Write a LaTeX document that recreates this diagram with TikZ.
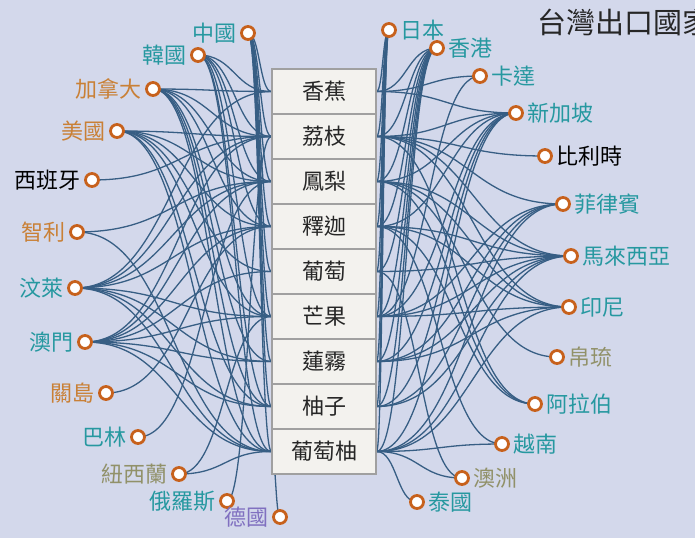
\documentclass[tikz,border=0pt]{standalone}
\usepackage{fontspec}
\setmainfont{Noto Sans CJK TC}
\usepackage{tikz}
\usetikzlibrary{calc}
\definecolor{bgblue}{RGB}{211,216,235}
\definecolor{linkblue}{RGB}{55,94,132}
\definecolor{ringorange}{RGB}{199,97,28}
\definecolor{boxfill}{RGB}{243,242,238}
\definecolor{boxline}{RGB}{160,160,160}
\definecolor{nteal}{RGB}{38,152,160}
\definecolor{norange}{RGB}{201,128,54}
\definecolor{nolive}{RGB}{145,145,105}
\definecolor{npurple}{RGB}{128,112,192}
\pgfdeclarelayer{bg}
\pgfdeclarelayer{links}
\pgfsetlayers{bg,links,main}
\newcommand{\West}[4]{\draw(#1) node[dot, label={[lab, text=#3]left:#4}] (#2) {};}
\newcommand{\East}[4]{\draw(#1) node[dot, label={[lab, text=#3]right:#4}] (#2) {};}
\newcommand{\LinkL}[2]{\draw[link] let \p1=(#1), \p2=(#2.west) in (\p1) .. controls ({(\x1+\x2)/2},\y1) and ({(\x1+\x2)/2},\y2) .. (\p2);}
\newcommand{\LinkR}[2]{\draw[link] let \p1=(#1.east), \p2=(#2) in (\p1) .. controls ({(\x1+\x2)/2},\y1) and ({(\x1+\x2)/2},\y2) .. (\p2);}

\begin{document}
\begin{tikzpicture}[x=1pt, y=-1pt,
    dot/.style={circle, draw=ringorange, line width=2.8pt, fill=white, minimum size=13pt, inner sep=0pt},
    lab/.style={font=\fontsize{22}{22}\selectfont, inner sep=1pt, label distance=2pt},
    fruit/.style={draw=boxline, line width=1.2pt, fill=boxfill, minimum width=104pt, minimum height=45pt, inner sep=0pt, text=black!85, font=\fontsize{22}{22}\selectfont},
    link/.style={draw=linkblue, line width=1.3pt}]

    \begin{pgfonlayer}{bg}
    \fill[bgblue] (0,0) rectangle (695,538);
    \end{pgfonlayer}
    \useasboundingbox (0,0) rectangle (695,538);

    \foreach \k/\name in {1/香蕉, 2/荔枝, 3/鳳梨, 4/釋迦, 5/葡萄, 6/芒果, 7/蓮霧, 8/柚子, 9/葡萄柚}
        \draw(324,{46.5+45*\k}) node[fruit] (f\k) {\name};

    \West{248,33}{cn}{nteal}{中國}
    \West{198,55}{kr}{nteal}{韓國}
    \West{153,89}{ca}{norange}{加拿大}
    \West{117,131}{us}{norange}{美國}
    \West{92,180}{es}{black}{西班牙}
    \West{77,232}{cl}{norange}{智利}
    \West{75,288}{bn}{nteal}{汶萊}
    \West{85,342}{mo}{nteal}{澳門}
    \West{106,393}{gu}{norange}{關島}
    \West{138,437}{bh}{nteal}{巴林}
    \West{179,474}{nz}{nolive}{紐西蘭}
    \West{227,501}{ru}{nteal}{俄羅斯}
    \West{280,517}{de}{npurple}{德國}

    \East{389,30}{jp}{nteal}{日本}
    \East{437,48}{hk}{nteal}{香港}
    \East{480,76}{qa}{nteal}{卡達}
    \East{516,113}{sg}{nteal}{新加坡}
    \East{545,156}{be}{black}{比利時}
    \East{563,204}{ph}{nteal}{菲律賓}
    \East{571,256}{my}{nteal}{馬來西亞}
    \East{569,307}{id}{nteal}{印尼}
    \East{557,357}{pw}{nolive}{帛琉}
    \East{535,404}{ae}{nteal}{阿拉伯}
    \East{502,444}{vn}{nteal}{越南}
    \East{462,478}{au}{nolive}{澳洲}
    \East{417,502}{th}{nteal}{泰國}

    \begin{pgfonlayer}{links}
    \foreach \c/\fs in {cn/{1,2,3,4,5,6,7,8,9}, kr/{1,2,3,4,6,8,9}, ca/{1,2,3,4,6,7,8,9},
        us/{2,3,4,5,6,8,9}, es/{2}, cl/{3,9}, bn/{1,2,3,4,6,7,8,9}, mo/{2,3,4,5,6,7,8,9},
        gu/{4}, bh/{3}, nz/{6,9}, ru/{2}, de/{9}}
        \foreach \k in \fs {\LinkL{\c}{f\k}}
    \foreach \c/\fs in {jp/{1,2,3,4,5,6,7,8,9}, hk/{1,2,3,4,5,6,7,8,9}, qa/{1,6},
        sg/{1,2,3,4,6,7,8,9}, be/{2}, ph/{2,6,7,8,9}, my/{2,3,4,5,6,7,8,9},
        id/{2,3,4,6,7,9}, pw/{3}, ae/{2,3,4}, vn/{4,9}, au/{5,9}, th/{9}}
        \foreach \k in \fs {\LinkR{f\k}{\c}}
    \end{pgfonlayer}

    \draw(534,22) node[anchor=west, font=\fontsize{29}{29}\selectfont, text=black!85] (title) {台灣出口國家};

\end{tikzpicture}
\end{document}
